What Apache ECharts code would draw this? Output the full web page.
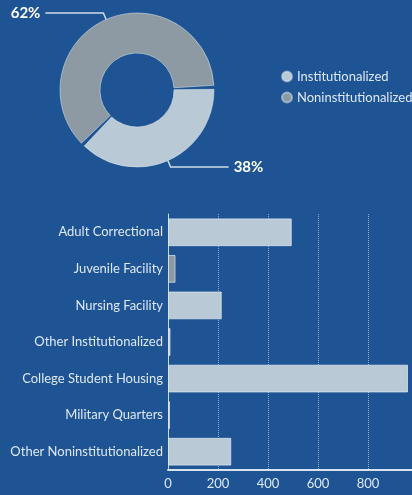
<!DOCTYPE html>
<html><head><meta charset="utf-8">
<script src="https://cdn.jsdelivr.net/npm/echarts@6/dist/echarts.min.js"></script>
<style>html,body{margin:0;padding:0;background:#1f5494;}#c{width:412px;height:495px;}</style>
</head><body><div id="c"></div>
<script>
var pieNames = ['Institutionalized', 'Noninstitutionalized'];
var pieValues = [38, 62];
var categories = ['Adult Correctional', 'Juvenile Facility', 'Nursing Facility', 'Other Institutionalized', 'College Student Housing', 'Military Quarters', 'Other Noninstitutionalized'];
var barValues = [495, 30, 215, 10, 960, 8, 253];
var xTicks = [0, 200, 400, 600, 800];

var BG = '#1f5494', LIGHT = '#b9cad6', GREY = '#8d9aa3', TXT = '#dde7f1';
var chart = echarts.init(document.getElementById('c'));
chart.setOption({
  backgroundColor: BG,
  animation: false,
  textStyle: { fontFamily: 'Lato' },
  color: [LIGHT, GREY],
  legend: {
    orient: 'vertical', left: 281, top: 70, icon: 'circle', padding: 0,
    itemWidth: 10, itemHeight: 10, itemGap: 8,
    textStyle: { color: TXT, fontSize: 13, fontFamily: 'Lato' },
    data: pieNames
  },
  grid: { left: 168, width: 250, top: 214, bottom: 25, outerBoundsMode: 'none', containLabel: false },
  xAxis: {
    type: 'value', min: 0, max: 1000, interval: 200,
    axisLine: { show: true, lineStyle: { color: '#d6e2ee', width: 2 } },
    axisTick: { show: false },
    splitLine: { show: true, lineStyle: { color: 'rgba(220,230,240,0.6)', type: 'dotted' } },
    axisLabel: { color: TXT, fontSize: 13, margin: 7,
      formatter: function (v) { return xTicks.indexOf(v) >= 0 ? String(v) : ''; } }
  },
  yAxis: {
    type: 'category', inverse: true, data: categories,
    axisLine: { show: true, lineStyle: { color: '#c9d7e4', width: 1 } },
    axisTick: { show: false },
    axisLabel: { color: TXT, fontSize: 13, margin: 5 }
  },
  series: [
    {
      type: 'pie', center: [137, 90], radius: [37, 77], startAngle: 2,
      padAngle: 3,
      data: pieNames.map(function (n, i) { return { name: n, value: pieValues[i] }; }),
      itemStyle: { borderColor: 'rgba(225,235,242,0.5)', borderWidth: 1 },
      label: { show: true, formatter: '{d}%', color: '#ffffff', fontWeight: 'bold', fontSize: 15, fontFamily: 'Lato', distanceToLabelLine: 5 },
      labelLine: { show: true, length: 7, length2: 58, smooth: false, lineStyle: { color: '#d0dce8', width: 1.5 } },
      emphasis: { disabled: true }
    },
    {
      type: 'bar', data: barValues, barWidth: '76%',
      itemStyle: {
        color: function (p) { return p.name === 'Juvenile Facility' ? GREY : LIGHT; },
        borderColor: 'rgba(225,235,242,0.7)', borderWidth: 1
      },
      emphasis: { disabled: true }
    }
  ]
});
</script></body></html>
